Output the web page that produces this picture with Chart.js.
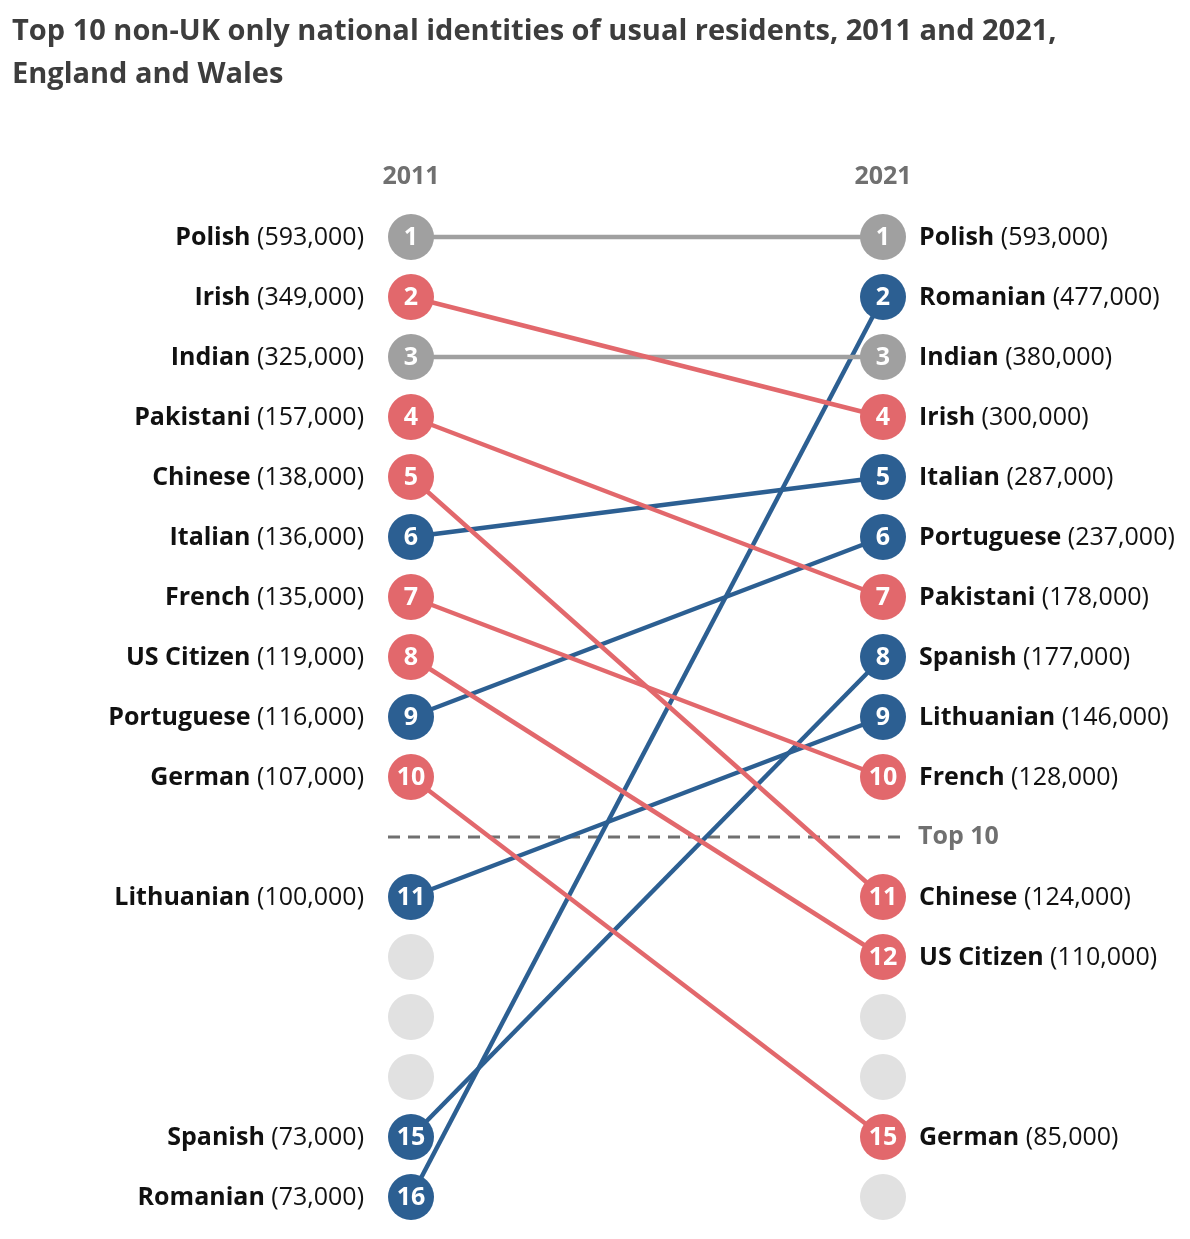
<!DOCTYPE html>
<html>
<head>
<meta charset="utf-8">
<script src="https://cdn.jsdelivr.net/npm/chart.js@4.4.0/dist/chart.umd.min.js"></script>
<style>
  html, body { margin: 0; padding: 0; background: #fff; overflow: hidden; }
</style>
</head>
<body>
<canvas id="slope" width="1190" height="1239"></canvas>
<script>
// dados do gráfico
const nationalities = ['Polish', 'Irish', 'Indian', 'Pakistani', 'Chinese', 'Italian', 'French',
  'US Citizen', 'Portuguese', 'German', 'Lithuanian', 'Spanish', 'Romanian'];
const rank2011 = [1, 2, 3, 4, 5, 6, 7, 8, 9, 10, 11, 15, 16];
const value2011 = [593, 349, 325, 157, 138, 136, 135, 119, 116, 107, 100, 73, 73]; // thousands
const rank2021 = [1, 4, 3, 7, 11, 5, 10, 12, 6, 15, 9, 8, 2];
const value2021 = [593, 300, 380, 178, 124, 287, 128, 110, 237, 85, 146, 177, 477]; // thousands
const empty2011 = [12, 13, 14];
const empty2021 = [13, 14, 16];
const years = ['2011', '2021'];
const cutoffRank = 10;

const RED = '#e2686c', BLUE = '#2c5f92', GREY = '#a0a0a0', EMPTY = '#e1e1e1';
const FONT = '"Open Sans", "Noto Sans", sans-serif';

// rank -> vertical slot (one blank slot after the top 10 for the dashed line)
const slot = r => r <= cutoffRank ? r : r + 1;
const colourFor = i => rank2021[i] < rank2011[i] ? BLUE : (rank2021[i] > rank2011[i] ? RED : GREY);
const fmt = v => (v * 1000).toLocaleString('en-GB');

const datasets = nationalities.map((n, i) => ({
  label: n,
  data: [{ x: 0, y: slot(rank2011[i]) }, { x: 1, y: slot(rank2021[i]) }],
  showLine: true,
  borderColor: colourFor(i),
  backgroundColor: colourFor(i),
  borderWidth: 4.5,
  pointRadius: 23,
  pointBorderWidth: 0,
  pointHoverRadius: 23,
  clip: false
}));
datasets.push({
  label: 'empty',
  data: empty2011.map(r => ({ x: 0, y: slot(r) })).concat(empty2021.map(r => ({ x: 1, y: slot(r) }))),
  showLine: false,
  backgroundColor: EMPTY,
  borderWidth: 0,
  pointRadius: 23,
  clip: false,
  order: 5
});

const labelPlugin = {
  id: 'slopeLabels',
  beforeDatasetsDraw(chart) {
    const ctx = chart.ctx, xs = chart.scales.x, ys = chart.scales.y;
    // dashed cut-off line
    const yLine = ys.getPixelForValue(cutoffRank + 1);
    ctx.save();
    ctx.strokeStyle = '#707070';
    ctx.lineWidth = 3;
    ctx.setLineDash([12, 8]);
    ctx.beginPath();
    ctx.moveTo(xs.getPixelForValue(0) - 23, yLine);
    ctx.lineTo(xs.getPixelForValue(1) + 22, yLine);
    ctx.stroke();
    ctx.setLineDash([]);
    ctx.fillStyle = '#707070';
    ctx.font = 'bold 25px ' + FONT;
    ctx.textBaseline = 'middle';
    ctx.textAlign = 'left';
    ctx.fillText('Top 10', xs.getPixelForValue(1) + 35, yLine);
    ctx.restore();
  },
  afterDatasetsDraw(chart) {
    const ctx = chart.ctx, xs = chart.scales.x, ys = chart.scales.y;
    const x0 = xs.getPixelForValue(0), x1 = xs.getPixelForValue(1);
    ctx.save();
    ctx.textBaseline = 'middle';

    // title
    ctx.fillStyle = '#3d3d3d';
    ctx.font = 'bold 29px ' + FONT;
    ctx.textAlign = 'left';
    ctx.fillText('Top 10 non-UK only national identities of usual residents, 2011 and 2021,', 12, 32);
    ctx.fillText('England and Wales', 12, 75);

    // year headers
    ctx.fillStyle = '#707070';
    ctx.font = 'bold 25px ' + FONT;
    ctx.textAlign = 'center';
    ctx.fillText(years[0], x0, ys.getPixelForValue(0));
    ctx.fillText(years[1], x1, ys.getPixelForValue(0));

    nationalities.forEach((n, i) => {
      const yl = ys.getPixelForValue(slot(rank2011[i]));
      const yr = ys.getPixelForValue(slot(rank2021[i]));

      // rank numbers in circles
      ctx.fillStyle = '#fff';
      ctx.font = 'bold 25px ' + FONT;
      ctx.textAlign = 'center';
      ctx.fillText(String(rank2011[i]), x0, yl + 1);
      ctx.fillText(String(rank2021[i]), x1, yr + 1);

      ctx.fillStyle = '#111';
      // left label (right aligned)
      const v1 = ' (' + fmt(value2011[i]) + ')';
      ctx.font = '25px ' + FONT;
      const w1 = ctx.measureText(v1).width;
      ctx.textAlign = 'right';
      ctx.fillText(v1, x0 - 47, yl + 1);
      ctx.font = 'bold 25px ' + FONT;
      ctx.fillText(n, x0 - 47 - w1, yl + 1);

      // right label
      ctx.textAlign = 'left';
      ctx.font = 'bold 25px ' + FONT;
      const wn = ctx.measureText(n).width;
      ctx.fillText(n, x1 + 36, yr + 1);
      ctx.font = '25px ' + FONT;
      ctx.fillText(' (' + fmt(value2021[i]) + ')', x1 + 36 + wn, yr + 1);
    });
    ctx.restore();
  }
};

new Chart(document.getElementById('slope'), {
  type: 'scatter',
  data: { datasets: datasets },
  options: {
    responsive: false,
    animation: false,
    events: [],
    layout: { autoPadding: false, padding: { left: 411, right: 307, top: 207, bottom: 12 } },
    scales: {
      x: { type: 'linear', min: 0, max: 1, display: false },
      y: { type: 'linear', min: 0.5, max: 17.5, reverse: true, display: false }
    },
    plugins: {
      legend: { display: false },
      tooltip: { enabled: false },
      title: { display: false }
    }
  },
  plugins: [labelPlugin]
});
</script>
</body>
</html>
